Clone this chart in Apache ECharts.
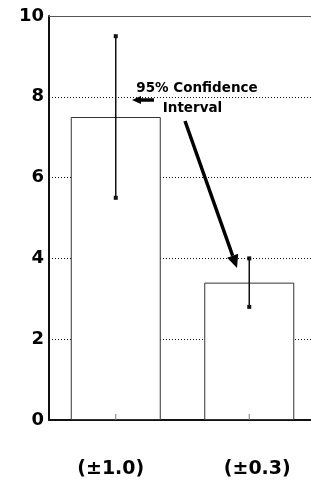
<!DOCTYPE html>
<html>
<head>
<meta charset="utf-8">
<script src="https://cdn.jsdelivr.net/npm/echarts@6/dist/echarts.min.js"></script>
<style>
  html, body { margin: 0; padding: 0; background: #fff; }
  #chart { width: 311px; height: 482px; }
</style>
</head>
<body>
<div id="chart"></div>
<script>
// data
var categories = ['(±1.0)', '(±0.3)'];
var means = [7.5, 3.4];
var ciLow = [5.5, 2.8];
var ciHigh = [9.5, 4.0];
var yTicks = [0, 2, 4, 6, 8, 10];

var FONT = 'DejaVu Sans';

var chart = echarts.init(document.getElementById('chart'));

var errData = categories.map(function (c, i) { return [i, ciLow[i], ciHigh[i]]; });

var option = {
  animation: false,
  grid: { left: 49, top: 16, height: 404, width: 267, outerBoundsMode: 'none', containLabel: false },
  xAxis: [{
    type: 'category',
    data: [
      { value: categories[0], textStyle: { padding: [0, 10, 0, 0] } },
      { value: categories[1], textStyle: { padding: [0, 0, 0, 16] } }
    ],
    axisLine: { lineStyle: { color: '#111', width: 2 } },
    axisTick: { show: false },
    axisLabel: { color: '#000', fontFamily: FONT, fontWeight: 'bold', fontSize: 19, margin: 40 }
  }, {
    type: 'category',
    position: 'top',
    data: categories,
    axisLine: { lineStyle: { color: '#555', width: 1.2 } },
    axisTick: { show: false },
    axisLabel: { show: false }
  }],
  yAxis: {
    type: 'value',
    min: yTicks[0],
    max: yTicks[yTicks.length - 1],
    interval: 2,
    axisLine: { show: true, lineStyle: { color: '#111', width: 2 } },
    axisTick: { show: false },
    axisLabel: { color: '#000', fontFamily: FONT, fontWeight: 'bold', fontSize: 18, margin: 5 },
    splitLine: { lineStyle: { color: '#111', width: 1, type: [1, 2] } }
  },
  series: [{
    type: 'bar',
    data: means,
    barWidth: 90,
    itemStyle: { color: '#fff', borderColor: '#333', borderWidth: 1 }
  }, {
    type: 'custom',
    data: errData,
    z: 6,
    renderItem: function (params, api) {
      var lo = api.coord([api.value(0), api.value(1)]);
      var hi = api.coord([api.value(0), api.value(2)]);
      var base = api.coord([api.value(0), 0]);
      var s = 4;
      return {
        type: 'group',
        children: [
          // category tick inside the bar
          { type: 'line', shape: { x1: base[0], y1: base[1], x2: base[0], y2: base[1] - 6 }, style: { stroke: '#777', lineWidth: 1 } },
          { type: 'line', shape: { x1: lo[0], y1: lo[1], x2: hi[0], y2: hi[1] }, style: { stroke: '#111', lineWidth: 1.5 } },
          { type: 'rect', shape: { x: lo[0] - s / 2, y: lo[1] - s / 2, width: s, height: s }, style: { fill: '#111' } },
          { type: 'rect', shape: { x: hi[0] - s / 2, y: hi[1] - s / 2, width: s, height: s }, style: { fill: '#111' } }
        ]
      };
    }
  }]
};
chart.setOption(option);

// annotation: text and two arrows
function arrow(x1, y1, x2, y2, w, head) {
  var ang = Math.atan2(y2 - y1, x2 - x1);
  var bx = x2 - head * Math.cos(ang), by = y2 - head * Math.sin(ang);
  var hw = head * 0.45;
  var px = -Math.sin(ang), py = Math.cos(ang);
  return [
    { type: 'line', shape: { x1: x1, y1: y1, x2: bx, y2: by }, style: { stroke: '#000', lineWidth: w } },
    { type: 'polygon', shape: { points: [[x2, y2], [bx + px * hw, by + py * hw], [bx - px * hw, by - py * hw]] }, style: { fill: '#000' } }
  ];
}
var g = [
  { type: 'text', x: 197, y: 88, style: { text: '95% Confidence', font: 'bold 13.5px ' + FONT, fill: '#000', align: 'center', verticalAlign: 'middle' } },
  { type: 'text', x: 192.5, y: 108, style: { text: 'Interval', font: 'bold 13.5px ' + FONT, fill: '#000', align: 'center', verticalAlign: 'middle' } }
].concat(arrow(154, 100, 132, 100, 3.5, 9)).concat(arrow(185, 121, 237, 268, 3.5, 13));
chart.setOption({ graphic: g });
</script>
</body>
</html>
